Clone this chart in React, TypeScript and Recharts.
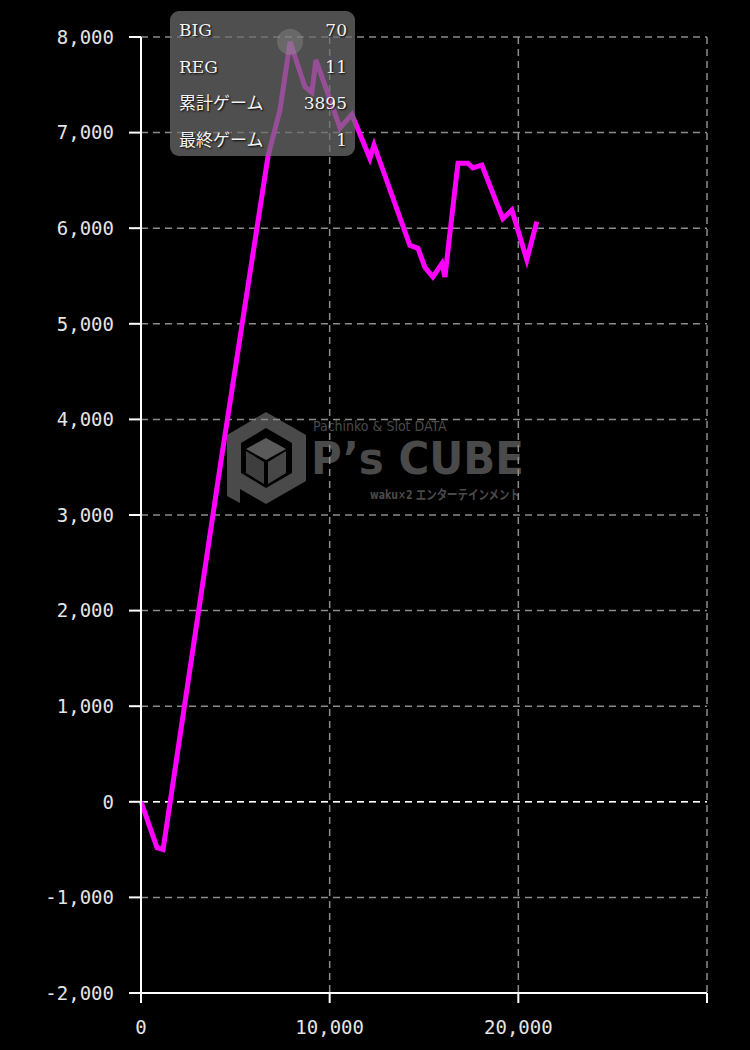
import React from "react"
import {
  LineChart,
  Line,
  XAxis,
  YAxis,
  CartesianGrid,
  ReferenceLine,
  ReferenceDot,
} from "recharts"

// 累計ゲーム数 / 差枚
const games = [
  0, 850, 1170, 4190, 6730, 7370, 7900, 8690, 9060, 9270, 10550, 11180, 12130,
  12350, 14250, 14680, 15050, 15470, 15950, 16110, 16270, 16800, 17330, 17590,
  18070, 18860, 19180, 19660, 20450, 20980,
]
const diff = [
  0, -480, -500, 3500, 6750, 7240, 7950, 7480, 7420, 7760, 7050, 7190, 6730,
  6870, 5820, 5790, 5590, 5490, 5630, 5490, 5770, 6680, 6680, 6630, 6660, 6260,
  6100, 6190, 5670, 6070,
]

const yTicks = [-2000, -1000, 0, 1000, 2000, 3000, 4000, 5000, 6000, 7000, 8000]
const xTicks = [0, 10000, 20000, 30000]
const xLabels = ["0", "10,000", "20,000", ""]

const infoLabels = ["BIG", "REG", "累計ゲーム", "最終ゲーム"]
const infoValues = ["70", "11", "3895", "1"]

const data = games.map((g, i) => ({ g, diff: diff[i] }))
const peak = data.reduce((a, b) => (b.diff > a.diff ? b : a))

const fmt = (v: number) => v.toLocaleString("en-US")
const tickStyle = {
  fill: "#e4e4e4",
  fontSize: 19,
  fontFamily: "'DejaVu Sans Mono', monospace",
}

function Logo() {
  const c = "#4a4a4a"
  return (
    <div style={{ position: "absolute", left: 0, top: 0, width: 750, height: 1050 }}>
      <svg width={750} height={1050}>
        <g fill={c}>
          <path d="M266 412 L306 435 L306 481 L266 504 L240 489 L240 503 L227 496 L227 435 Z M266 428 L241 443 L241 473 L266 488 L292 473 L292 443 Z" fillRule="evenodd" />
          <path d="M266 438 L286 449 L266 460 L246 449 Z" fill="#5a5a5a" />
          <path d="M246 451 L264 462 L264 484 L246 473 Z" fill="#3e3e3e" />
          <path d="M268 462 L286 451 L286 473 L268 484 Z" fill="#474747" />
        </g>
        <text x={313} y={431} fill={c} fontSize={14} fontFamily="'DejaVu Sans Condensed', sans-serif">
          Pachinko &amp; Slot DATA
        </text>
        <text x={311} y={474} fill={c} fontSize={44} fontWeight="bold" fontFamily="'DejaVu Sans', sans-serif" textLength={213} lengthAdjust="spacingAndGlyphs">
          P’s CUBE
        </text>
        <text x={370} y={499} fill={c} fontSize={13} fontWeight="bold" fontFamily="'DejaVu Sans Condensed', 'Noto Sans CJK JP', sans-serif" textLength={150} lengthAdjust="spacingAndGlyphs">
          waku×2 エンターテインメント
        </text>
      </svg>
    </div>
  )
}

function InfoBox() {
  return (
    <div
      style={{
        position: "absolute",
        left: 170,
        top: 11,
        width: 185,
        height: 145,
        borderRadius: 9,
        background: "rgba(110,110,110,0.72)",
        boxSizing: "border-box",
        padding: "9px 8px 0 9px",
        color: "#f2f2f2",
        fontFamily: "'DejaVu Serif', 'Liberation Serif', 'Noto Sans CJK JP', serif",
        fontSize: 17,
        textShadow: "1px 1px 2px #000",
      }}
    >
      {infoLabels.map((l, i) => (
        <div
          key={l}
          style={{ display: "flex", justifyContent: "space-between", height: 36.7, lineHeight: "20px" }}
        >
          <span>{l}</span>
          <span>{infoValues[i]}</span>
        </div>
      ))}
    </div>
  )
}

export default function App() {
  return (
    <div style={{ position: "fixed", left: 0, top: 0, width: 750, height: 1050, background: "#000", overflow: "hidden" }}>
      <Logo />
      <div style={{ position: "absolute", left: 0, top: 0 }}>
        <LineChart
          width={750}
          height={1050}
          data={data}
          margin={{ top: 37, right: 43, left: 0, bottom: 0 }}
        >
          <CartesianGrid stroke="#8c8c8c" strokeWidth={1.5} strokeDasharray="7 5" />
          <XAxis
            type="number"
            dataKey="g"
            domain={[0, 30000]}
            ticks={xTicks}
            tickFormatter={(v: number) => xLabels[xTicks.indexOf(v)] ?? ""}
            stroke="#fff"
            strokeWidth={2}
            tickSize={10}
            tickMargin={18}
            tick={tickStyle}
            height={57}
            interval={0}
          />
          <YAxis
            type="number"
            domain={[-2000, 8000]}
            ticks={yTicks}
            tickFormatter={fmt}
            stroke="#fff"
            strokeWidth={2}
            tickSize={12}
            tickMargin={15}
            tick={tickStyle}
            width={141}
            interval={0}
          />
          <ReferenceLine y={0} stroke="#fff" strokeWidth={1.5} strokeDasharray="7 5" />
          <Line
            type="linear"
            dataKey="diff"
            stroke="#ff00ff"
            strokeWidth={5}
            strokeLinejoin="miter"
            dot={false}
            isAnimationActive={false}
          />
          <ReferenceDot x={peak.g} y={peak.diff} r={13} fill="rgba(255,255,255,0.35)" stroke="none" />
        </LineChart>
      </div>
      <InfoBox />
    </div>
  )
}
